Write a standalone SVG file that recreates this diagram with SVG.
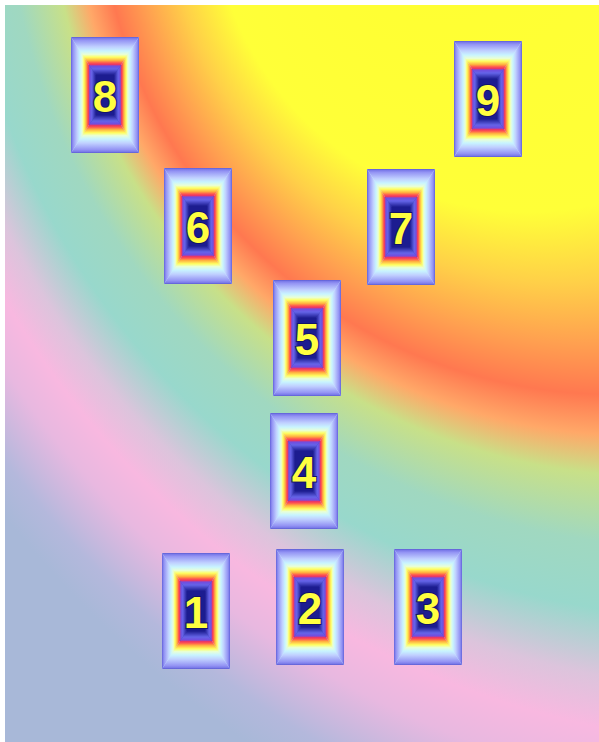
<svg xmlns="http://www.w3.org/2000/svg" width="599" height="742" viewBox="0 0 599 742">
  <defs>
    <radialGradient id="bg" gradientUnits="userSpaceOnUse" cx="865" cy="-163" r="1096" fx="391" fy="-83">
      <stop offset="0" stop-color="#ffff30"/>
      <stop offset="0.29" stop-color="#ffff38"/>
      <stop offset="0.36" stop-color="#ffd048"/>
      <stop offset="0.42" stop-color="#ffa050"/>
      <stop offset="0.47" stop-color="#ff7850"/>
      <stop offset="0.51" stop-color="#ffa868"/>
      <stop offset="0.55" stop-color="#c8e088"/>
      <stop offset="0.62" stop-color="#a0d8c0"/>
      <stop offset="0.69" stop-color="#98d8cc"/>
      <stop offset="0.76" stop-color="#dcc4dc"/>
      <stop offset="0.815" stop-color="#f8b8e0"/>
      <stop offset="0.87" stop-color="#e8b8e0"/>
      <stop offset="0.95" stop-color="#b4b8dc"/>
      <stop offset="1" stop-color="#a8b8d8"/>
    </radialGradient>
    <linearGradient id="fo">
      <stop offset="0" stop-color="#5a5ad0"/>
      <stop offset="0.04" stop-color="#7878e8"/>
      <stop offset="0.12" stop-color="#9494f4"/>
      <stop offset="0.35" stop-color="#c0d0ff"/>
      <stop offset="0.5" stop-color="#c8f4ff"/>
      <stop offset="0.62" stop-color="#e8ffd8"/>
      <stop offset="0.72" stop-color="#ffff60"/>
      <stop offset="0.84" stop-color="#ffb040"/>
      <stop offset="0.93" stop-color="#ff5050"/>
      <stop offset="1" stop-color="#e03070"/>
    </linearGradient>
    <linearGradient id="oT" href="#fo" x1="0" y1="0" x2="0" y2="1"/>
    <linearGradient id="oB" href="#fo" x1="0" y1="1" x2="0" y2="0"/>
    <linearGradient id="oL" href="#fo" x1="0" y1="0" x2="1" y2="0"/>
    <linearGradient id="oR" href="#fo" x1="1" y1="0" x2="0" y2="0"/>
    <linearGradient id="fi">
      <stop offset="0" stop-color="#b040a0"/>
      <stop offset="0.15" stop-color="#7050e0"/>
      <stop offset="0.4" stop-color="#6464e8"/>
      <stop offset="1" stop-color="#1c1c90"/>
    </linearGradient>
    <linearGradient id="iT" href="#fi" x1="0" y1="0" x2="0" y2="1"/>
    <linearGradient id="iB" href="#fi" x1="0" y1="1" x2="0" y2="0"/>
    <linearGradient id="iL" href="#fi" x1="0" y1="0" x2="1" y2="0"/>
    <linearGradient id="iR" href="#fi" x1="1" y1="0" x2="0" y2="0"/>
    <g id="card">
      <rect x="0" y="0" width="68" height="116" fill="#c8f0ff"/>
      <polygon points="0,0 68,0 50,28 18,28" fill="url(#oT)"/>
      <polygon points="0,116 68,116 50,88 18,88" fill="url(#oB)"/>
      <polygon points="0,0 18,28 18,88 0,116" fill="url(#oL)"/>
      <polygon points="68,0 50,28 50,88 68,116" fill="url(#oR)"/>
      <rect x="18" y="28" width="32" height="60" fill="#4040c0"/>
      <polygon points="18,28 50,28 43,38 25,38" fill="url(#iT)"/>
      <polygon points="18,88 50,88 43,78 25,78" fill="url(#iB)"/>
      <polygon points="18,28 25,38 25,78 18,88" fill="url(#iL)"/>
      <polygon points="50,28 43,38 43,78 50,88" fill="url(#iR)"/>
      <rect x="25" y="38" width="18" height="40" fill="#1c1c90"/>
    </g>
  </defs>
  <style>
    .num { font-family: "Liberation Sans", Arial, sans-serif; font-weight: bold; font-size: 44px; fill: #ffff40; stroke: #141468; stroke-width: 2; paint-order: stroke; text-anchor: middle; }
  </style>
  <rect x="0" y="0" width="599" height="742" fill="#ffffff"/>
  <rect x="5" y="5" width="594" height="737" fill="url(#bg)"/>
  <g id="connectors"/>
  <g id="node8" transform="translate(71,37)"><use href="#card"/><text class="num" x="34" y="75">8</text></g>
  <g id="node9" transform="translate(454,41)"><use href="#card"/><text class="num" x="34" y="75">9</text></g>
  <g id="node6" transform="translate(164,168)"><use href="#card"/><text class="num" x="34" y="75">6</text></g>
  <g id="node7" transform="translate(367,169)"><use href="#card"/><text class="num" x="34" y="75">7</text></g>
  <g id="node5" transform="translate(273,280)"><use href="#card"/><text class="num" x="34" y="75">5</text></g>
  <g id="node4" transform="translate(270,413)"><use href="#card"/><text class="num" x="34" y="75">4</text></g>
  <g id="node1" transform="translate(162,553)"><use href="#card"/><text class="num" x="34" y="75">1</text></g>
  <g id="node2" transform="translate(276,549)"><use href="#card"/><text class="num" x="34" y="75">2</text></g>
  <g id="node3" transform="translate(394,549)"><use href="#card"/><text class="num" x="34" y="75">3</text></g>
</svg>
